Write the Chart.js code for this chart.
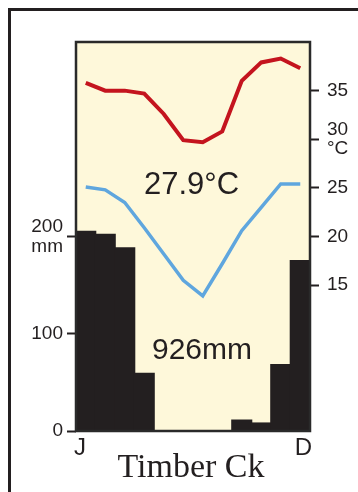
<!DOCTYPE html>
<html>
<head>
<meta charset="utf-8">
<script src="https://cdn.jsdelivr.net/npm/chart.js@4/dist/chart.umd.min.js"></script>
<style>
  body { margin: 0; background: #fff; }
  canvas { display: block; }
</style>
</head>
<body>
<canvas id="chart" width="358" height="492"></canvas>
<script>
// monthly values
const months = ['J', 'F', 'M', 'A', 'M', 'J', 'J', 'A', 'S', 'O', 'N', 'D'];
const rainfall = [205, 202, 188, 59, 0, 0, 0, 0, 11, 8, 68, 175];
const tempMax = [35.8, 35.0, 35.0, 34.7, 32.6, 29.9, 29.7, 30.8, 36.0, 37.9, 38.3, 37.3];
const tempMin = [25.1, 24.8, 23.5, 20.9, 18.2, 15.5, 13.9, 17.2, 20.6, 23.0, 25.4, 25.4];
const rainTicks = [0, 100, 200];
const tempTicks = [15, 20, 25, 30, 35];
const stationName = 'Timber Ck';
const meanTemp = '27.9°C';
const totalRain = '926mm';

const ink = '#231f20';

const decor = {
    id: 'decor',
    beforeDatasetsDraw(chart) {
        const { ctx, chartArea: a } = chart;
        ctx.save();
        // outer frame
        ctx.strokeStyle = ink;
        ctx.lineWidth = 3;
        ctx.beginPath();
        ctx.moveTo(9.5, chart.height + 5);
        ctx.lineTo(9.5, 9.5);
        ctx.lineTo(chart.width + 5, 9.5);
        ctx.stroke();
        // cream plot background
        ctx.fillStyle = '#fef8da';
        ctx.fillRect(a.left, a.top, a.right - a.left, a.bottom - a.top);
        ctx.restore();
    },
    afterDatasetsDraw(chart) {
        const { ctx, chartArea: a } = chart;
        ctx.save();
        ctx.strokeStyle = '#2a2a2a';
        ctx.lineWidth = 2.5;
        ctx.strokeRect(a.left, a.top, a.right - a.left, a.bottom - a.top);

        ctx.fillStyle = ink;
        ctx.textAlign = 'center';
        ctx.textBaseline = 'alphabetic';
        ctx.font = '31px "Liberation Sans", Arial, sans-serif';
        ctx.fillText(meanTemp, 191.5, 194);
        ctx.font = '30px "Liberation Sans", Arial, sans-serif';
        ctx.fillText(totalRain, 202, 359);
        ctx.font = '24px "Liberation Sans", Arial, sans-serif';
        ctx.fillText(months[0], a.left + 4, 455);
        ctx.fillText(months[11], a.right - 6.5, 455);
        ctx.font = '34px "Liberation Serif", "Times New Roman", serif';
        ctx.fillText(stationName, 191, 477);
        ctx.restore();
    }
};

const tickFont = { family: '"Liberation Sans", Arial, sans-serif', size: 19, lineHeight: 1.05 };

new Chart(document.getElementById('chart'), {
    type: 'bar',
    data: {
        labels: months,
        datasets: [
            {
                type: 'line',
                label: 'Max temp',
                data: tempMax,
                yAxisID: 'y2',
                borderColor: '#c4141e',
                borderWidth: 4,
                pointRadius: 0,
                tension: 0,
                order: 0
            },
            {
                type: 'line',
                label: 'Min temp',
                data: tempMin,
                yAxisID: 'y2',
                borderColor: '#5fa6de',
                borderWidth: 3.5,
                pointRadius: 0,
                tension: 0,
                order: 0
            },
            {
                label: 'Rainfall',
                data: rainfall,
                yAxisID: 'y',
                backgroundColor: ink,
                borderWidth: 0,
                inflateAmount: 0.8,
                categoryPercentage: 1,
                barPercentage: 1,
                order: 1
            }
        ]
    },
    options: {
        responsive: false,
        animation: false,
        layout: { padding: { top: 42, left: 0, right: 0, bottom: 0 } },
        plugins: {
            legend: { display: false },
            tooltip: { enabled: false }
        },
        scales: {
            x: {
                grid: { display: false },
                border: { display: false },
                ticks: { display: false },
                afterFit: (s) => { s.height = 61; }
            },
            y: {
                position: 'left',
                min: 0,
                max: 400,
                border: { display: false },
                grid: { drawOnChartArea: false, drawTicks: true, tickLength: 9, tickWidth: 2, tickColor: ink },
                ticks: {
                    color: ink,
                    font: tickFont,
                    padding: 4,
                    callback: (v) => v === 200 ? ['200', 'mm'] : String(v)
                },
                afterBuildTicks: (s) => { s.ticks = rainTicks.map(v => ({ value: v })); },
                afterFit: (s) => { s.width = 76; }
            },
            y2: {
                position: 'right',
                min: 0,
                max: 40,
                border: { display: false },
                grid: { drawOnChartArea: false, drawTicks: true, tickLength: 9, tickWidth: 2, tickColor: ink },
                ticks: {
                    color: ink,
                    font: tickFont,
                    padding: 8,
                    callback: (v) => v === 30 ? ['30', '°C'] : String(v)
                },
                afterBuildTicks: (s) => { s.ticks = tempTicks.map(v => ({ value: v })); },
                afterFit: (s) => { s.width = 48; }
            }
        }
    },
    plugins: [decor]
});
</script>
</body>
</html>
